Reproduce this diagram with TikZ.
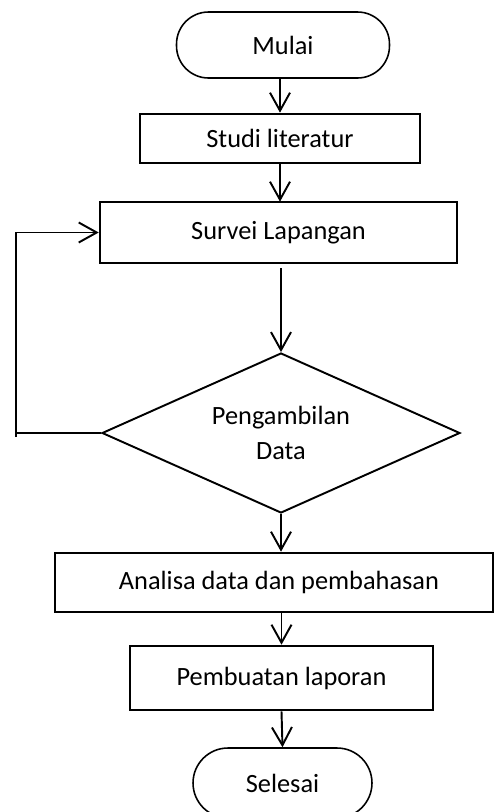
\documentclass[tikz,border=0pt]{standalone}
\usepackage{fontspec}
\setmainfont{Carlito}
\usetikzlibrary{arrows.meta, shapes.geometric}

\begin{document}
\begin{tikzpicture}[x=0.02cm, y=-0.02cm,
  font=\fontsize{15}{20}\selectfont,
  terminal/.style={draw, line width=0.9pt, rounded corners=0.64cm, minimum width=#1, minimum height=1.32cm, inner sep=0pt},
  proses/.style={draw, line width=1.5pt, minimum width=#1, inner sep=0pt},
  keputusan/.style={draw, line width=1.1pt, diamond, aspect=2.24, minimum width=7.16cm, minimum height=3.2cm, inner sep=0pt, align=center},
  panah/.style={line width=1.1pt, -{Straight Barb[length=0.36cm, width=0.4cm, line width=1.1pt]}}]
\useasboundingbox (0,0) rectangle (494,812);
\node[terminal=4.26cm] (mulai) at (283,45) {Mulai};
\node[proses=5.6cm, minimum height=0.98cm] (studi) at (280,138.5) {Studi literatur};
\node[proses=7.14cm, minimum height=1.22cm] (survei) at (278.5,232.5) {Survei Lapangan};
\node[keputusan] (data) at (281,433) {Pengambilan\\Data};
\node[proses=8.76cm, minimum height=1.18cm] (analisa) at (274,582.5) {\hspace{0.2cm}Analisa data dan pembahasan};
\node[proses=6.06cm, minimum height=1.28cm] (laporan) at (281.5,678) {Pembuatan laporan};
\node[terminal=3.58cm, minimum height=1.4cm, rounded corners=0.7cm] (selesai) at (282.5,783) {Selesai};
\coordinate (balik) at (16,433);
% alur utama
\draw[panah] (mulai.south -| studi.north) -- (studi.north);
\draw[panah] (studi.south) -- ([yshift=-0.02cm]studi.south |- survei.north);
\draw[panah] ([yshift=-0.08cm]survei.south -| data.north) -- (data.north);
\draw[panah] (data.south) -- (data.south |- analisa.north);
\draw[panah] (laporan.north |- analisa.south) -- (laporan.north);
\draw[panah] (laporan.south) -- (selesai.north);
% kembali ke survei
\draw[line width=1.1pt] (data.west) -- (balik);
\draw[panah] ([yshift=-0.08cm]balik) -- (balik |- survei.west) -- (survei.west);
\end{tikzpicture}
\end{document}
